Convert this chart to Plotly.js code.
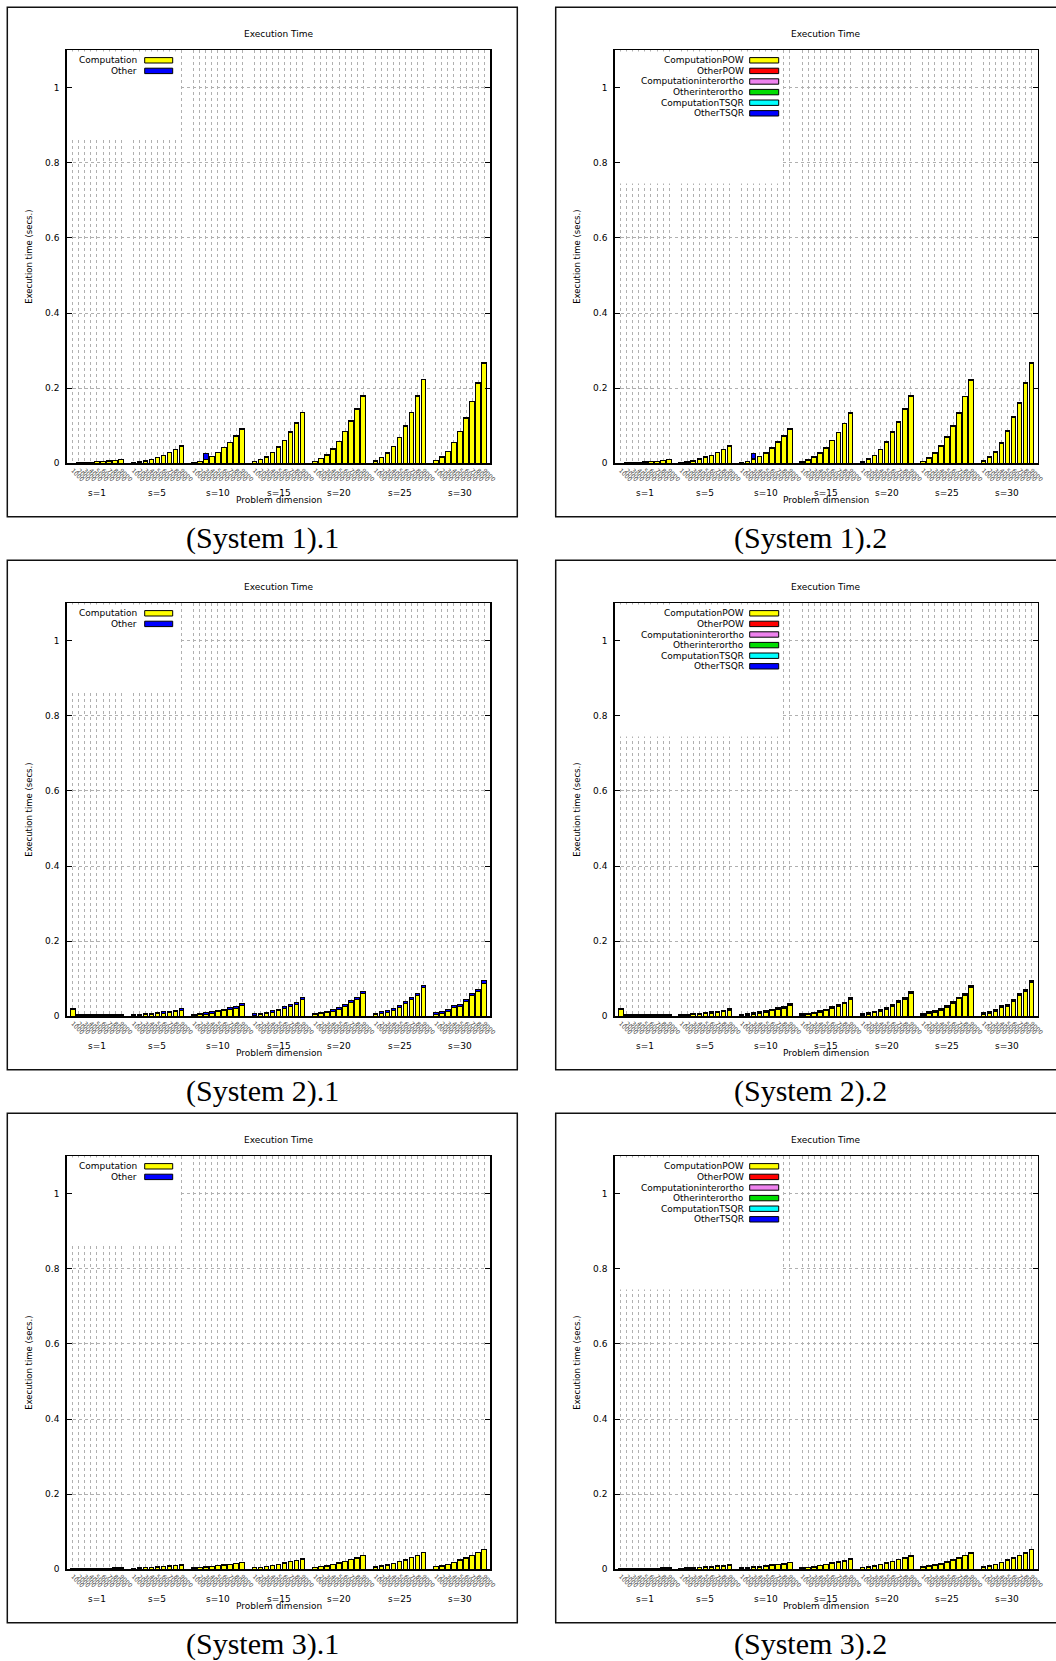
<!DOCTYPE html>
<html>
<head>
<meta charset="utf-8">
<script src="https://cdn.plot.ly/plotly-3.0.1.min.js"></script>
<style>
html,body{margin:0;padding:0;background:#fff;}
#chart{width:1056px;height:1661px;}
</style>
</head>
<body>
<div id="chart"></div>
<script>
// ---------------- DATA ----------------
const groups = ["s=1","s=5","s=10","s=15","s=20","s=25","s=30"];
const dims = ["1000","2000","3000","4000","5000","6000","7000","8000","9000"];
const captions = ["(System 1).1","(System 1).2","(System 2).1","(System 2).2","(System 3).1","(System 3).2"];
const namesA = ["Computation","Other"];
const namesB = ["ComputationPOW","OtherPOW","Computationinterortho","Otherinterortho","ComputationTSQR","OtherTSQR"];
const yTickVals = [0,0.2,0.4,0.6,0.8,1];
const yTickText = ["0","0.2","0.4","0.6","0.8","1"];

// (System 1).1
const S1_comp = [
.0005,.0011,.002,.0027,.0035,.0044,.0059,.0078,.0097,
.0011,.003,.0059,.0103,.0152,.0212,.0281,.036,.046,
.0025,.0054,.01,.0182,.0291,.042,.055,.0719,.0908,
.004,.0088,.0162,.0281,.043,.0609,.0828,.1067,.1346,
.0049,.0122,.0221,.038,.0578,.0837,.111,.1435,.1784,
.0058,.0142,.027,.0449,.0687,.0986,.1344,.1783,.2222,
.0063,.015,.031,.0548,.0836,.12,.1633,.2132,.266];
const S1_other = [
.0003,.0004,.0005,.0005,.0005,.0006,.0006,.0007,.0008,
.0004,.0005,.0006,.0007,.0008,.0008,.0009,.001,.001,
.0005,.0006,.015,.0008,.0009,.001,.001,.0011,.0012,
.0005,.0007,.0008,.0009,.001,.0011,.0012,.0013,.0014,
.0006,.0008,.0009,.001,.0012,.0013,.003,.0015,.0016,
.0007,.0008,.001,.0011,.0013,.0014,.0016,.0017,.0018,
.0007,.003,.001,.0012,.0014,.003,.0017,.0018,.002];

// (System 1).2
const S1b_compPOW = [
0,.0008,.0016,.0022,.003,.004,.0052,.0077,.0097,
.0001,.0021,.0051,.0101,.0156,.0206,.0276,.0356,.0456,
.0007,.0039,.0103,.0169,.0269,.0399,.0549,.0709,.0899,
.0017,.0067,.0147,.0267,.0407,.0597,.0807,.1047,.1327,
.0026,.0096,.0196,.0356,.0556,.0816,.1096,.1426,.1776,
.0035,.0125,.0255,.0445,.0685,.0985,.1335,.1765,.2215,
.0039,.0144,.0284,.0534,.0834,.1214,.1604,.2114,.2644];
const S1b_otherPOW = [
.0002,.0002,.0002,.0002,.0002,.0002,.0002,.0002,.0002,
.0003,.0003,.0003,.0003,.0003,.0003,.0003,.0003,.0003,
.0005,.0005,.0005,.0005,.0005,.0005,.0005,.0005,.0005,
.0005,.0005,.0005,.0005,.0005,.0005,.0005,.0005,.0005,
.0005,.0005,.0005,.0005,.0005,.0005,.0005,.0005,.0005,
.0005,.0005,.0005,.0005,.0005,.0005,.0005,.0005,.0005,
.0005,.0005,.0005,.0005,.0005,.0005,.0005,.0005,.0005];
const S1b_compInter = [
.0001,.0001,.0001,.0001,.0001,.0001,.0001,.0001,.0001,
.0002,.0002,.0002,.0002,.0002,.0002,.0002,.0002,.0002,
.0003,.0003,.0003,.0003,.0003,.0003,.0003,.0003,.0003,
.0003,.0003,.0003,.0003,.0003,.0003,.0003,.0003,.0003,
.0003,.0003,.0003,.0003,.0003,.0003,.0003,.0003,.0003,
.0003,.0003,.0003,.0003,.0003,.0003,.0003,.0003,.0003,
.0003,.0003,.0003,.0003,.0003,.0003,.0003,.0003,.0003];
const S1b_otherInter = [
.0001,.0001,.0001,.0001,.0001,.0001,.0001,.0001,.0001,
.0002,.0002,.0002,.0002,.0002,.0002,.0002,.0002,.0002,
.0003,.0003,.0003,.0003,.0003,.0003,.0003,.0003,.0003,
.0003,.0003,.0003,.0003,.0003,.0003,.0003,.0003,.0003,
.0003,.0003,.0003,.0003,.0003,.0003,.0003,.0003,.0003,
.0003,.0003,.0003,.0003,.0003,.0003,.0003,.0003,.0003,
.0003,.0003,.0003,.0003,.0003,.0003,.0003,.0003,.0003];
const S1b_compTSQR = [
.0002,.0002,.0002,.0002,.0002,.0002,.0002,.0002,.0002,
.0004,.0004,.0004,.0004,.0004,.0004,.0004,.0004,.0004,
.0006,.0006,.0006,.0006,.0006,.0006,.0006,.0006,.0006,
.0007,.0007,.0007,.0007,.0007,.0007,.0007,.0007,.0007,
.0008,.0008,.0008,.0008,.0008,.0008,.0008,.0008,.0008,
.0009,.0009,.0009,.0009,.0009,.0009,.0009,.0009,.0009,
.001,.001,.001,.001,.001,.001,.001,.001,.001];
const S1b_otherTSQR = [
.0002,.0002,.0002,.0002,.0002,.0002,.0002,.0002,.0002,
.0003,.0003,.0003,.0003,.0003,.0003,.0003,.0003,.0003,
.0004,.0004,.014,.0004,.0004,.0004,.0004,.0004,.0004,
.0005,.0005,.0005,.0005,.0005,.0005,.0005,.0005,.0005,
.0005,.0005,.0005,.0005,.0005,.0005,.0005,.0005,.0005,
.0005,.0005,.0005,.0005,.0005,.0005,.0005,.0005,.0005,
.0005,.0005,.0005,.0005,.0005,.0005,.0005,.0005,.0005];

// (System 2).1
const S2_comp = [
.017,.0015,.0015,.0015,.0015,.0015,.0015,.0015,.002,
.0016,.0033,.0046,.0055,.0068,.0086,.0094,.012,.0161,
.0028,.0046,.0059,.0086,.0116,.0152,.0187,.0218,.0289,
.0032,.005,.0072,.0107,.0147,.0209,.0265,.0325,.0445,
.0041,.0063,.0098,.0138,.0185,.026,.0375,.0455,.06,
.0045,.0076,.0111,.0159,.0235,.034,.046,.0545,.076,
.0058,.0079,.0133,.0226,.027,.0395,.0545,.0655,.088];
const S2_other = [
.004,.0025,.0025,.0025,.0025,.0025,.0025,.0025,.003,
.002,.002,.0025,.0025,.003,.003,.003,.003,.0035,
.0025,.0025,.003,.003,.0035,.0035,.0035,.004,.004,
.003,.003,.0035,.0035,.004,.004,.0045,.0045,.0045,
.003,.0035,.0035,.004,.0045,.005,.0045,.0045,.005,
.0035,.004,.004,.0045,.0045,.005,.005,.0055,.005,
.004,.0045,.0045,.005,.005,.0055,.0055,.0055,.006];

// (System 2).2
const S2b_compPOW = [
.0171,.0006,.0006,.0006,.0006,.0006,.0006,.0006,.0016,
.0001,.0018,.0036,.0045,.0063,.0081,.0089,.0115,.0161,
.0013,.0031,.0049,.0076,.0111,.0147,.0182,.0218,.0289,
.002,.0038,.0065,.01,.0145,.0207,.0268,.0328,.0448,
.0027,.0054,.0089,.0134,.0186,.0266,.0376,.0456,.0606,
.0034,.007,.0105,.0158,.0234,.0344,.0464,.0554,.0764,
.0048,.0074,.0128,.0226,.027,.04,.055,.066,.089];
const S2b_otherPOW = [
.0004,.0004,.0004,.0004,.0004,.0004,.0004,.0004,.0004,
.0005,.0005,.0005,.0005,.0005,.0005,.0005,.0005,.0005,
.0005,.0005,.0005,.0005,.0005,.0005,.0005,.0005,.0005,
.0005,.0005,.0005,.0005,.0005,.0005,.0005,.0005,.0005,
.0005,.0005,.0005,.0005,.0005,.0005,.0005,.0005,.0005,
.0005,.0005,.0005,.0005,.0005,.0005,.0005,.0005,.0005,
.0005,.0005,.0005,.0005,.0005,.0005,.0005,.0005,.0005];
const S2b_compInter = [
.0004,.0004,.0004,.0004,.0004,.0004,.0004,.0004,.0004,
.0004,.0004,.0004,.0004,.0004,.0004,.0004,.0004,.0004,
.0004,.0004,.0004,.0004,.0004,.0004,.0004,.0004,.0004,
.0004,.0004,.0004,.0004,.0004,.0004,.0004,.0004,.0004,
.0004,.0004,.0004,.0004,.0004,.0004,.0004,.0004,.0004,
.0004,.0004,.0004,.0004,.0004,.0004,.0004,.0004,.0004,
.0004,.0004,.0004,.0004,.0004,.0004,.0004,.0004,.0004];
const S2b_otherInter = [
.0003,.0003,.0003,.0003,.0003,.0003,.0003,.0003,.0003,
.0003,.0003,.0003,.0003,.0003,.0003,.0003,.0003,.0003,
.0003,.0003,.0003,.0003,.0003,.0003,.0003,.0003,.0003,
.0003,.0003,.0003,.0003,.0003,.0003,.0003,.0003,.0003,
.0003,.0003,.0003,.0003,.0003,.0003,.0003,.0003,.0003,
.0003,.0003,.0003,.0003,.0003,.0003,.0003,.0003,.0003,
.0003,.0003,.0003,.0003,.0003,.0003,.0003,.0003,.0003];
const S2b_compTSQR = [
.0008,.0008,.0008,.0008,.0008,.0008,.0008,.0008,.0008,
.0008,.0008,.0008,.0008,.0008,.0008,.0008,.0008,.0008,
.001,.001,.001,.001,.001,.001,.001,.001,.001,
.001,.001,.001,.001,.001,.001,.001,.001,.001,
.0012,.0012,.0012,.0012,.0012,.0012,.0012,.0012,.0012,
.0012,.0012,.0012,.0012,.0012,.0012,.0012,.0012,.0012,
.0014,.0014,.0014,.0014,.0014,.0014,.0014,.0014,.0014];
const S2b_otherTSQR = [
.002,.0015,.0015,.0015,.0015,.0015,.0015,.0015,.0015,
.0015,.0015,.0015,.0015,.0015,.0015,.0015,.0015,.0015,
.0018,.0018,.0018,.0018,.0018,.0018,.0018,.0018,.0018,
.002,.002,.002,.002,.002,.002,.002,.002,.002,
.002,.002,.002,.002,.002,.002,.002,.002,.002,
.0022,.0022,.0022,.0022,.0022,.0022,.0022,.0022,.0022,
.0025,.0025,.0025,.0025,.0025,.0025,.0025,.0025,.0025];

// (System 3).1
const S3_comp = [
.0015,.0015,.0015,.002,.002,.002,.002,.0025,.003,
.0019,.0029,.0039,.0049,.0059,.0069,.0079,.0089,.0109,
.0028,.0038,.0058,.0068,.0088,.0108,.0128,.0148,.0178,
.0037,.0047,.0067,.0097,.0127,.0157,.0197,.0227,.0267,
.0046,.0066,.0086,.0126,.0166,.0206,.0256,.0296,.0356,
.0055,.0075,.0105,.0145,.0195,.0245,.0305,.0365,.0435,
.0064,.0084,.0124,.0174,.0234,.0294,.0364,.0434,.0524];
const S3_other = [
.001,.001,.001,.001,.001,.001,.001,.001,.001,
.0011,.0011,.0011,.0011,.0011,.0011,.0011,.0011,.0011,
.0012,.0012,.0012,.0012,.0012,.0012,.0012,.0012,.0012,
.0013,.0013,.0013,.0013,.0013,.0013,.0013,.0013,.0013,
.0014,.0014,.0014,.0014,.0014,.0014,.0014,.0014,.0014,
.0015,.0015,.0015,.0015,.0015,.0015,.0015,.0015,.0015,
.0016,.0016,.0016,.0016,.0016,.0016,.0016,.0016,.0016];

// (System 3).2
const S3b_compPOW = [
.0003,.0003,.0003,.0008,.0008,.0008,.0008,.0013,.0018,
.0008,.0018,.0028,.0038,.0048,.0058,.0068,.0078,.0098,
.0018,.0028,.0048,.0058,.0078,.0098,.0118,.0138,.0168,
.0028,.0038,.0058,.0088,.0118,.0148,.0188,.0218,.0258,
.0038,.0058,.0078,.0118,.0158,.0198,.0248,.0288,.0348,
.0048,.0068,.0098,.0138,.0188,.0238,.0298,.0358,.0428,
.0058,.0078,.0118,.0168,.0228,.0288,.0358,.0428,.0518];
const S3b_otherPOW = [
.0003,.0003,.0003,.0003,.0003,.0003,.0003,.0003,.0003,
.0003,.0003,.0003,.0003,.0003,.0003,.0003,.0003,.0003,
.0003,.0003,.0003,.0003,.0003,.0003,.0003,.0003,.0003,
.0003,.0003,.0003,.0003,.0003,.0003,.0003,.0003,.0003,
.0003,.0003,.0003,.0003,.0003,.0003,.0003,.0003,.0003,
.0003,.0003,.0003,.0003,.0003,.0003,.0003,.0003,.0003,
.0003,.0003,.0003,.0003,.0003,.0003,.0003,.0003,.0003];
const S3b_compInter = [
.0003,.0003,.0003,.0003,.0003,.0003,.0003,.0003,.0003,
.0003,.0003,.0003,.0003,.0003,.0003,.0003,.0003,.0003,
.0003,.0003,.0003,.0003,.0003,.0003,.0003,.0003,.0003,
.0003,.0003,.0003,.0003,.0003,.0003,.0003,.0003,.0003,
.0003,.0003,.0003,.0003,.0003,.0003,.0003,.0003,.0003,
.0003,.0003,.0003,.0003,.0003,.0003,.0003,.0003,.0003,
.0003,.0003,.0003,.0003,.0003,.0003,.0003,.0003,.0003];
const S3b_otherInter = [
.0002,.0002,.0002,.0002,.0002,.0002,.0002,.0002,.0002,
.0002,.0002,.0002,.0002,.0002,.0002,.0002,.0002,.0002,
.0002,.0002,.0002,.0002,.0002,.0002,.0002,.0002,.0002,
.0002,.0002,.0002,.0002,.0002,.0002,.0002,.0002,.0002,
.0002,.0002,.0002,.0002,.0002,.0002,.0002,.0002,.0002,
.0002,.0002,.0002,.0002,.0002,.0002,.0002,.0002,.0002,
.0002,.0002,.0002,.0002,.0002,.0002,.0002,.0002,.0002];
const S3b_compTSQR = [
.0006,.0006,.0006,.0006,.0006,.0006,.0006,.0006,.0006,
.0006,.0006,.0006,.0006,.0006,.0006,.0006,.0006,.0006,
.0006,.0006,.0006,.0006,.0006,.0006,.0006,.0006,.0006,
.0006,.0006,.0006,.0006,.0006,.0006,.0006,.0006,.0006,
.0006,.0006,.0006,.0006,.0006,.0006,.0006,.0006,.0006,
.0006,.0006,.0006,.0006,.0006,.0006,.0006,.0006,.0006,
.0006,.0006,.0006,.0006,.0006,.0006,.0006,.0006,.0006];
const S3b_otherTSQR = [
.0008,.0008,.0008,.0008,.0008,.0008,.0008,.0008,.0008,
.0008,.0008,.0008,.0008,.0008,.0008,.0008,.0008,.0008,
.0008,.0008,.0008,.0008,.0008,.0008,.0008,.0008,.0008,
.0008,.0008,.0008,.0008,.0008,.0008,.0008,.0008,.0008,
.0008,.0008,.0008,.0008,.0008,.0008,.0008,.0008,.0008,
.0008,.0008,.0008,.0008,.0008,.0008,.0008,.0008,.0008,
.0008,.0008,.0008,.0008,.0008,.0008,.0008,.0008,.0008];

const colorsA = ["#ffff00","#0000ff"];
const colorsB = ["#ffff00","#ff0000","#ee82ee","#00dd00","#00ffff","#0000ff"];

// ---------------- LAYOUT / DRAWING ----------------
const W = 1056, H = 1661;
const px = v => v / W;
const py = v => 1 - v / H;
const FONT = "DejaVu Sans, sans-serif";

const panels = [
  {cap:captions[0], names:namesA, colors:colorsA, series:[S1_comp,S1_other]},
  {cap:captions[1], names:namesB, colors:colorsB, series:[S1b_compPOW,S1b_otherPOW,S1b_compInter,S1b_otherInter,S1b_compTSQR,S1b_otherTSQR]},
  {cap:captions[2], names:namesA, colors:colorsA, series:[S2_comp,S2_other]},
  {cap:captions[3], names:namesB, colors:colorsB, series:[S2b_compPOW,S2b_otherPOW,S2b_compInter,S2b_otherInter,S2b_compTSQR,S2b_otherTSQR]},
  {cap:captions[4], names:namesA, colors:colorsA, series:[S3_comp,S3_other]},
  {cap:captions[5], names:namesB, colors:colorsB, series:[S3b_compPOW,S3b_otherPOW,S3b_compInter,S3b_otherInter,S3b_compTSQR,S3b_otherTSQR]}
];

const cols = [
  {plotL:66.7, plotR:490.3, boxL:7.3, boxR:517.3, capX:262.3, legTextR:72, swL:78, swR:106, bgX1:17.5, bgY0:0.862},
  {plotL:614.7, plotR:1037.7, boxL:555.7, boxR:1068, capX:810.8, legTextR:131, swL:135, swR:164, bgX1:26.5, bgY0:0.745}
];

// bar positions: groups separated by one empty slot
const xpos = [];
const tickText = [];
groups.forEach((g, gi) => dims.forEach((d, j) => { xpos.push(gi * (dims.length + 1) + j); tickText.push(d); }));
const xMax = groups.length * (dims.length + 1) - 1;

const traces = [];
const layout = {
  width: W, height: H,
  margin: {l:0, r:0, t:0, b:0},
  paper_bgcolor: "#fff", plot_bgcolor: "#fff",
  barmode: "stack",
  showlegend: false,
  font: {family: FONT, color: "#000"},
  annotations: [], shapes: []
};

panels.forEach((p, i) => {
  const c = cols[i % 2];
  const off = Math.floor(i / 2) * 553;
  const plotT = 50 + off, plotB = 463.3 + off;
  const boxT = 7.3 + off, boxB = 516.7 + off;
  const n = i + 1;
  const xs = n === 1 ? "" : String(n);
  const xr = "x" + xs, yr = "y" + xs;

  p.series.forEach((arr, k) => {
    traces.push({
      type: "bar", x: xpos, y: arr, xaxis: xr, yaxis: yr,
      name: p.names[k], width: 0.75,
      marker: {color: p.colors[k], line: {color: "#000", width: 1}},
      showlegend: false, hoverinfo: "skip"
    });
  });

  layout["xaxis" + xs] = {
    domain: [px(c.plotL), px(c.plotR)], anchor: yr, range: [-1, xMax],
    tickmode: "array", tickvals: xpos, ticktext: tickText, tickangle: 45,
    tickfont: {family: FONT, size: 6, color: "#444"}, ticks: "",
    showgrid: true, gridcolor: "#b0b0b0", griddash: "dot", gridwidth: 1,
    showline: true, linecolor: "#000", linewidth: 1.5, mirror: true,
    zeroline: false, fixedrange: true
  };
  layout["yaxis" + xs] = {
    domain: [py(plotB), py(plotT)], anchor: xr, range: [0, 1.1],
    tickmode: "array", tickvals: yTickVals, ticktext: yTickText,
    ticks: "inside", ticklen: 5, tickwidth: 1, tickcolor: "#000",
    tickfont: {family: FONT, size: 9, color: "#000"}, ticklabelstandoff: 4,
    showgrid: true, gridcolor: "#b0b0b0", griddash: "dot", gridwidth: 1,
    showline: true, linecolor: "#000", linewidth: 1.5, mirror: "ticks",
    zeroline: false, fixedrange: true
  };

  // panel frame
  layout.shapes.push({type:"rect", xref:"paper", yref:"paper",
    x0: px(c.boxL), x1: px(c.boxR), y0: py(boxB), y1: py(boxT),
    line: {color:"#111", width:1.5}, fillcolor:"rgba(0,0,0,0)", layer:"below"});

  // opaque key background
  layout.shapes.push({type:"rect", xref:xr, yref:yr,
    x0: -0.75, x1: c.bgX1, y0: c.bgY0, y1: 1.096,
    line: {width:0}, fillcolor:"#fff", layer:"between"});

  // key entries
  p.names.forEach((nm, k) => {
    const yy = plotT + 10.3 + k * 10.6;
    layout.annotations.push({xref:"paper", yref:"paper", x: px(c.plotL + c.legTextR), y: py(yy),
      xanchor:"right", yanchor:"middle", text: nm, showarrow:false,
      font:{family:FONT, size:9, color:"#000"}});
    layout.shapes.push({type:"rect", xref:"paper", yref:"paper",
      x0: px(c.plotL + c.swL), x1: px(c.plotL + c.swR), y0: py(yy + 2.7), y1: py(yy - 2.7),
      fillcolor: p.colors[k], line:{color:"#000", width:1}, layer:"above"});
  });

  // title
  layout.annotations.push({xref:"paper", yref:"paper", x: px((c.plotL + c.plotR) / 2), y: py(34 + off),
    xanchor:"center", yanchor:"middle", text:"Execution Time", showarrow:false,
    font:{family:FONT, size:9, color:"#000"}});
  // y title
  layout.annotations.push({xref:"paper", yref:"paper", x: px(c.plotL - 38.5), y: py((plotT + plotB) / 2),
    xanchor:"center", yanchor:"middle", textangle:-90, text:"Execution time (secs.)", showarrow:false,
    font:{family:FONT, size:8.5, color:"#000"}});
  // group labels
  groups.forEach((g, gi) => {
    layout.annotations.push({xref:xr, yref:"paper", x: gi * (dims.length + 1) + (dims.length - 1) / 2,
      y: py(plotB + 29.5), xanchor:"center", yanchor:"middle", text:g, showarrow:false,
      font:{family:FONT, size:9, color:"#000"}});
  });
  // x title
  layout.annotations.push({xref:"paper", yref:"paper", x: px((c.plotL + c.plotR) / 2), y: py(plotB + 37),
    xanchor:"center", yanchor:"middle", text:"Problem dimension", showarrow:false,
    font:{family:FONT, size:9, color:"#000"}});
  // caption
  layout.annotations.push({xref:"paper", yref:"paper", x: px(c.capX), y: py(538 + off),
    xanchor:"center", yanchor:"middle", text:p.cap, showarrow:false,
    font:{family:"Liberation Serif, Times New Roman, serif", size:30, color:"#000"}});
});

Plotly.newPlot("chart", traces, layout, {displayModeBar:false, staticPlot:true});
</script>
</body>
</html>
